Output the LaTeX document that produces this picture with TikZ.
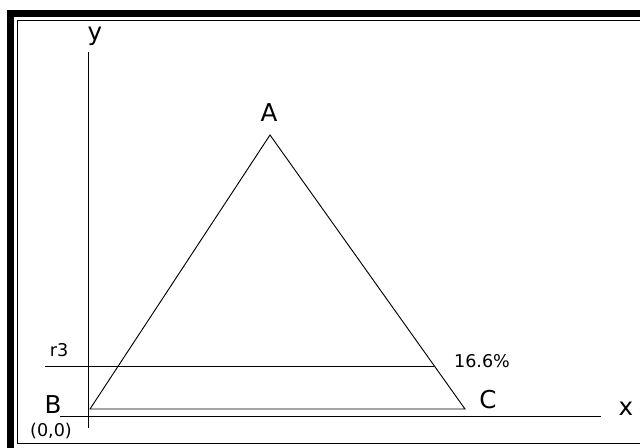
\documentclass[tikz,border=0pt]{standalone}
\usepackage{fontspec}
\setmainfont{DejaVu Sans}
\begin{document}
\begin{tikzpicture}[x=0.03cm, y=-0.03cm, line width=0.8pt,
  big/.style={font=\fontsize{21}{23}\selectfont, inner sep=0pt},
  small/.style={font=\fontsize{15}{17}\selectfont, inner sep=0pt}]
  \useasboundingbox (0,0) rectangle (640,448);
  \clip (0,0) rectangle (640,448);

  % frame
  \draw[line width=5.6pt] (10.5,13.5) rectangle (660,470);
  \draw[line width=0.8pt] (17.5,20.5) rectangle (650,443.5);

  % axes
  \coordinate (ytop) at (88,52);
  \coordinate (ybot) at (88,428);
  \coordinate (xleft) at (60,416);
  \coordinate (xright) at (601,416);
  \draw (ybot) -- (ytop);
  \draw (xleft) -- (xright);
  \node[big] (ylab) at (95,36) {y};
  \node[big] (xlab) at (626,409) {x};

  % triangle
  \coordinate (A) at (270,135);
  \coordinate (B) at (90,409);
  \coordinate (C) at (465,409);
  \draw (B) -- (A) -- (C) -- cycle;
  \node[big] (labA) at (269,113) {A};
  \node[big] (labB) at (53,405) {B};
  \node[big] (labC) at (488,400) {C};
  \node[small] (origin) at (51,431) {(0,0)};

  % r3 level
  \coordinate (r3start) at (45,366);
  \coordinate (r3end) at (434,366);
  \draw (r3start) -- (r3end);
  \node[small] (r3lab) at (59,350) {r3};
  \node[small] (pct) at (482,361) {16.6\%};
\end{tikzpicture}
\end{document}
